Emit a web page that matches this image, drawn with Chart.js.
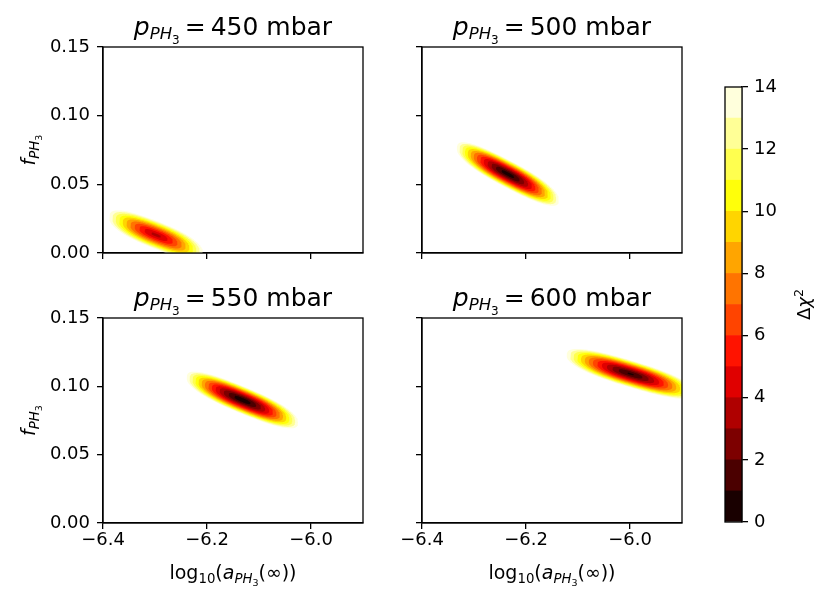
<!DOCTYPE html>
<html><head><meta charset="utf-8">
<script src="https://cdn.jsdelivr.net/npm/chart.js@4.4.1/dist/chart.umd.min.js"></script>
<style>
html,body{margin:0;padding:0;background:#fff;}
#wrap{position:relative;width:831px;height:602px;background:#fff;}
canvas{position:absolute;left:0;top:0;}
</style></head><body>
<div id="wrap">
<canvas id="c0" width="831" height="602"></canvas>
<canvas id="c1" width="831" height="602"></canvas>
<canvas id="c2" width="831" height="602"></canvas>
<canvas id="c3" width="831" height="602"></canvas>
<canvas id="cb" width="831" height="602"></canvas>
</div>
<script>
// ---- data ----
const pressures = [450, 500, 550, 600];                 // mbar, one panel each
const centerLogA = [-6.298, -6.235, -6.132, -5.999];    // best-fit log10(a_PH3(inf))
const centerF = [0.0131, 0.0575, 0.0900, 0.1091];       // best-fit f_PH3
const halfLenLogA = [0.090, 0.098, 0.1070, 0.1228];     // half-extent of the Δχ²=14 contour in log a
const slopeF = [-0.146, -0.195, -0.155, -0.113];        // degeneracy direction df / dlog a
const halfThickF = [0.0104, 0.0106, 0.0103, 0.0100];    // half-width in f of the Δχ²=14 contour
const minChi2 = [3.6, 0.3, 0.1, 0.8];                   // lowest Δχ² reached inside each panel
const blobSquareness = [2.5, 2.5, 2.5, 2.5];            // contour roundness (2 = ellipse)
const chi2Levels = [0,1,2,3,4,5,6,7,8,9,10,11,12,13,14];
const levelColors = ['#190000','#4b0000','#7d0000','#af0000','#e00000','#ff1300','#ff4400',
                     '#ff7400','#ffa500','#ffd500','#ffff0a','#ffff4f','#ffff96','#ffffdc'];
const xTicks = [-6.4, -6.2, -6.0];
const yTicks = [0.00, 0.05, 0.10, 0.15];
const cbTicks = [0, 2, 4, 6, 8, 10, 12, 14];

// ---- layout (pixels) ----
const panelBoxes = [
  {l:103, r:363, t:47,  b:253, showX:false, showY:true},
  {l:422, r:682, t:47,  b:253, showX:false, showY:false},
  {l:103, r:363, t:318, b:523, showX:true,  showY:true},
  {l:422, r:682, t:318, b:523, showX:true,  showY:false}
];
const W = 831, H = 602, YW = 60, XH = 40;
const FONT = '"DejaVu Sans", "Liberation Sans", sans-serif';

function rich(ctx, segs, x, y, rot) {
  ctx.save();
  ctx.translate(x, y);
  ctx.rotate(rot || 0);
  let w = 0;
  for (const g of segs) {
    ctx.font = (g.it ? 'italic ' : '') + g.s + 'px ' + FONT;
    g.w = ctx.measureText(g.t).width; w += g.w;
  }
  let cx = -w / 2;
  ctx.fillStyle = '#000'; ctx.textBaseline = 'alphabetic'; ctx.textAlign = 'left';
  for (const g of segs) {
    ctx.font = (g.it ? 'italic ' : '') + g.s + 'px ' + FONT;
    ctx.fillText(g.t, cx, g.dy || 0);
    cx += g.w;
  }
  ctx.restore();
}

function spow(v, e) { return Math.sign(v) * Math.pow(Math.abs(v), e); }

function contour(p, level) {
  const k = Math.pow((level - minChi2[p]) / (14 - minChi2[p]), 0.7);
  const e = 2 / blobSquareness[p];
  const pts = [];
  const N = 200;
  for (let i = 0; i <= N; i++) {
    const t = 2 * Math.PI * i / N;
    const dx = halfLenLogA[p] * k * spow(Math.cos(t), e);
    pts.push({x: centerLogA[p] + dx,
              y: centerF[p] + slopeF[p] * dx + halfThickF[p] * k * spow(Math.sin(t), e)});
  }
  return pts;
}

const framePlugin = {
  id: 'frame',
  afterDraw(chart) {
    const a = chart.chartArea, ctx = chart.ctx;
    ctx.save();
    ctx.strokeStyle = '#000'; ctx.lineWidth = 1.3;
    ctx.strokeRect(a.left, a.top, a.right - a.left, a.bottom - a.top);
    ctx.restore();
  }
};

function fmtX(v) { return (v < 0 ? '\u2212' : '') + Math.abs(v).toFixed(1); }
function fmtY(v) { return v.toFixed(2); }

panelBoxes.forEach((bx, p) => {
  const datasets = [];
  const first = Math.floor(minChi2[p]);
  for (let b = first; b < chi2Levels.length - 1; b++) {
    datasets.push({
      data: contour(p, chi2Levels[b + 1]),
      backgroundColor: levelColors[b],
      borderColor: levelColors[b],
      borderWidth: 0,
      pointRadius: 0,
      tension: 0,
      fill: 'shape'
    });
  }
  const textPlugin = {
    id: 'txt' + p,
    afterDraw(chart) {
      const ctx = chart.ctx;
      const cx = (bx.l + bx.r) / 2;
      rich(ctx, [
        {t: 'p', s: 25, it: true},
        {t: 'PH', s: 16.5, it: true, dy: 4},
        {t: '3', s: 12, dy: 8.5},
        {t: '\u2009=\u2009' + pressures[p] + ' mbar', s: 25}
      ], cx, bx.t - 12, 0);
      if (bx.showX) {
        rich(ctx, [
          {t: 'log', s: 19},
          {t: '10', s: 13.3, dy: 3.8},
          {t: '(', s: 19},
          {t: 'a', s: 19, it: true},
          {t: 'PH', s: 13.3, it: true, dy: 3.8},
          {t: '3', s: 9.5, dy: 7},
          {t: '(\u221e))', s: 19}
        ], cx, 579, 0);
      }
      if (bx.showY) {
        rich(ctx, [
          {t: 'f', s: 19, it: true},
          {t: 'PH', s: 13.3, it: true, dy: 3.8},
          {t: '3', s: 9.5, dy: 7}
        ], 35, (bx.t + bx.b) / 2, -Math.PI / 2);
      }
    }
  };
  new Chart(document.getElementById('c' + p), {
    type: 'line',
    data: {datasets},
    options: {
      responsive: false, animation: false, events: [],
      devicePixelRatio: 1,
      layout: {padding: {left: bx.l - YW, right: W - bx.r, top: bx.t, bottom: H - bx.b - XH}},
      plugins: {legend: {display: false}, tooltip: {enabled: false}, title: {display: false}},
      elements: {point: {radius: 0}, line: {tension: 0}},
      scales: {
        x: {
          type: 'linear', min: -6.4, max: -5.9,
          afterBuildTicks: a => { a.ticks = xTicks.map(v => ({value: v})); },
          afterFit: s => { s.height = XH; },
          grid: {drawOnChartArea: false, drawTicks: true, tickLength: 6, color: '#000', lineWidth: 1.3},
          border: {display: true, color: '#000', width: 1.3},
          ticks: {display: bx.showX, color: '#000', font: {family: FONT, size: 18}, padding: 1,
                  maxRotation: 0, autoSkip: false, callback: v => fmtX(v)}
        },
        y: {
          type: 'linear', min: 0, max: 0.15,
          afterBuildTicks: a => { a.ticks = yTicks.map(v => ({value: v})); },
          afterFit: s => { s.width = YW; },
          grid: {drawOnChartArea: false, drawTicks: true, tickLength: 6, color: '#000', lineWidth: 1.3},
          border: {display: true, color: '#000', width: 1.3},
          ticks: {display: bx.showY, color: '#000', font: {family: FONT, size: 18}, padding: 7,
                  autoSkip: false, callback: v => fmtY(v)}
        }
      }
    },
    plugins: [framePlugin, textPlugin]
  });
});

// ---- colour bar ----
const cbBox = {l: 725, r: 742, t: 87, b: 522};
const cbLabel = {
  id: 'cblabel',
  afterDraw(chart) {
    rich(chart.ctx, [
      {t: '\u0394', s: 18},
      {t: '\u03c7', s: 18, it: true},
      {t: '2', s: 12.6, dy: -7.5}
    ], 810, (cbBox.t + cbBox.b) / 2, -Math.PI / 2);
  }
};
new Chart(document.getElementById('cb'), {
  type: 'bar',
  data: {
    labels: [''],
    datasets: levelColors.map((c, i) => ({
      data: [chi2Levels[i + 1] - chi2Levels[i]],
      backgroundColor: c, borderWidth: 0,
      categoryPercentage: 1, barPercentage: 1
    }))
  },
  options: {
    responsive: false, animation: false, events: [],
    devicePixelRatio: 1,
    layout: {padding: {left: cbBox.l, right: W - cbBox.r - YW, top: cbBox.t, bottom: H - cbBox.b}},
    plugins: {legend: {display: false}, tooltip: {enabled: false}},
    scales: {
      x: {display: false, stacked: true},
      y: {
        position: 'right', stacked: true, min: 0, max: 14,
        afterBuildTicks: a => { a.ticks = cbTicks.map(v => ({value: v})); },
        afterFit: s => { s.width = YW; },
        grid: {drawOnChartArea: false, drawTicks: true, tickLength: 6, color: '#000', lineWidth: 1.3},
        border: {display: true, color: '#000', width: 1.3},
        ticks: {color: '#000', font: {family: FONT, size: 18}, padding: 6, autoSkip: false}
      }
    }
  },
  plugins: [framePlugin, cbLabel]
});
</script>
</body></html>
